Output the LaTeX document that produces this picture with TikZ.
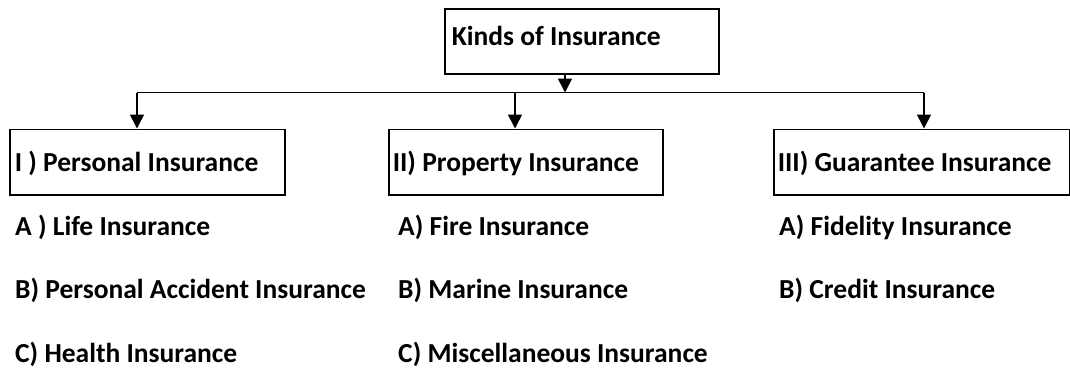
\documentclass[tikz,border=0pt]{standalone}
\usepackage{fontspec}
\setmainfont{Carlito}
\usetikzlibrary{arrows.meta}
\begin{document}
\begin{tikzpicture}[x=1pt,y=-1pt,
  every node/.style={font=\fontsize{27.5}{32}\selectfont\bfseries},
  box/.style={draw,line width=1.6pt,anchor=north west,minimum height=65.5pt,inner ysep=0pt,text height=22pt,text depth=4pt},
  item/.style={anchor=west,inner sep=0pt},
  arr/.style={line width=1.6pt,-{Triangle[width=14pt,length=14pt]}},
  ln/.style={line width=1.6pt}]
\useasboundingbox (0,0) rectangle (1070,368);
\node[box,inner xsep=7pt,minimum width=274pt,minimum height=65pt,text depth=14pt] (top) at (444,8) {\makebox[260pt][l]{Kinds of Insurance}};
\node[box,inner xsep=5pt,minimum width=275pt] (p1) at (9,128.5) {\makebox[265pt][l]{I ) Personal Insurance}};
\node[box,inner xsep=4pt,minimum width=274pt] (p2) at (388,128.5) {\makebox[266pt][l]{II) Property Insurance}};
\node[box,inner xsep=4pt,minimum width=296pt] (p3) at (773,128.5) {\makebox[288pt][l]{III) Guarantee Insurance}};
\coordinate (j) at (565,92.5);
\coordinate (l) at (137,92.5);
\coordinate (m) at (515,92.5);
\coordinate (r) at (924,92.5);
\draw[arr] (top.south -| j) -- (j);
\draw[ln] (l) -- (r);
\draw[arr] (l) -- (l |- p1.north);
\draw[arr] (m) -- (m |- p2.north);
\draw[arr] (r) -- (r |- p3.north);
\node[item] (a1) at (15,227) {A ) Life Insurance};
\node[item] (b1) at (15,290) {B) Personal Accident Insurance};
\node[item] (c1) at (15,354) {C) Health Insurance};
\node[item] (a2) at (398,227) {A) Fire Insurance};
\node[item] (b2) at (398,290) {B) Marine Insurance};
\node[item] (c2) at (398,354) {C) Miscellaneous Insurance};
\node[item] (a3) at (779,227) {A) Fidelity Insurance};
\node[item] (b3) at (779,290) {B) Credit Insurance};
\end{tikzpicture}
\end{document}
